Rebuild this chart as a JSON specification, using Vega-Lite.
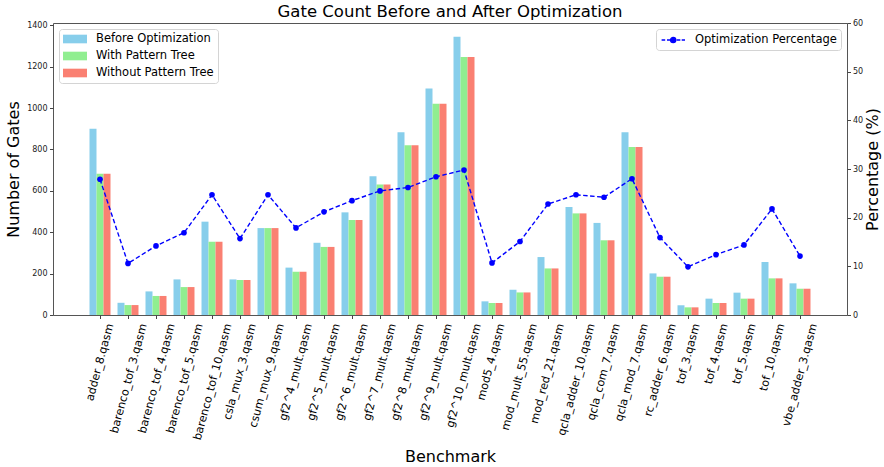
{
  "$schema": "https://vega.github.io/schema/vega-lite/v6.json",
  "autosize": {"type": "none"},
  "width": 794,
  "height": 292,
  "padding": {"left": 53, "top": 23, "right": 37, "bottom": 152},
  "background": "white",
  "config": {
    "font": "DejaVu Sans",
    "view": {"stroke": "#555", "strokeWidth": 1},
    "axis": {"grid": false, "domain": false, "tickColor": "#444", "tickSize": 3.5, "labelColor": "#222", "titleColor": "black", "titleFontWeight": "normal", "titleFont": "DejaVu Sans", "labelFont": "DejaVu Sans"}
  },
  "title": {"text": "Gate Count Before and After Optimization", "fontSize": 16.5, "fontWeight": "normal", "font": "DejaVu Sans", "color": "black", "anchor": "middle", "offset": 5, "dy": 6},
  "datasets": {
    "bars": [
      {"benchmark": "adder_8.qasm", "series": "Before Optimization", "gates": 900},
      {"benchmark": "adder_8.qasm", "series": "With Pattern Tree", "gates": 683},
      {"benchmark": "adder_8.qasm", "series": "Without Pattern Tree", "gates": 683},
      {"benchmark": "barenco_tof_3.qasm", "series": "Before Optimization", "gates": 59},
      {"benchmark": "barenco_tof_3.qasm", "series": "With Pattern Tree", "gates": 48},
      {"benchmark": "barenco_tof_3.qasm", "series": "Without Pattern Tree", "gates": 48},
      {"benchmark": "barenco_tof_4.qasm", "series": "Before Optimization", "gates": 114},
      {"benchmark": "barenco_tof_4.qasm", "series": "With Pattern Tree", "gates": 92},
      {"benchmark": "barenco_tof_4.qasm", "series": "Without Pattern Tree", "gates": 92},
      {"benchmark": "barenco_tof_5.qasm", "series": "Before Optimization", "gates": 172},
      {"benchmark": "barenco_tof_5.qasm", "series": "With Pattern Tree", "gates": 135},
      {"benchmark": "barenco_tof_5.qasm", "series": "Without Pattern Tree", "gates": 135},
      {"benchmark": "barenco_tof_10.qasm", "series": "Before Optimization", "gates": 451},
      {"benchmark": "barenco_tof_10.qasm", "series": "With Pattern Tree", "gates": 354},
      {"benchmark": "barenco_tof_10.qasm", "series": "Without Pattern Tree", "gates": 354},
      {"benchmark": "csla_mux_3.qasm", "series": "Before Optimization", "gates": 172},
      {"benchmark": "csla_mux_3.qasm", "series": "With Pattern Tree", "gates": 169},
      {"benchmark": "csla_mux_3.qasm", "series": "Without Pattern Tree", "gates": 169},
      {"benchmark": "csum_mux_9.qasm", "series": "Before Optimization", "gates": 420},
      {"benchmark": "csum_mux_9.qasm", "series": "With Pattern Tree", "gates": 420},
      {"benchmark": "csum_mux_9.qasm", "series": "Without Pattern Tree", "gates": 420},
      {"benchmark": "gf2^4_mult.qasm", "series": "Before Optimization", "gates": 229},
      {"benchmark": "gf2^4_mult.qasm", "series": "With Pattern Tree", "gates": 209},
      {"benchmark": "gf2^4_mult.qasm", "series": "Without Pattern Tree", "gates": 209},
      {"benchmark": "gf2^5_mult.qasm", "series": "Before Optimization", "gates": 349},
      {"benchmark": "gf2^5_mult.qasm", "series": "With Pattern Tree", "gates": 329},
      {"benchmark": "gf2^5_mult.qasm", "series": "Without Pattern Tree", "gates": 329},
      {"benchmark": "gf2^6_mult.qasm", "series": "Before Optimization", "gates": 496},
      {"benchmark": "gf2^6_mult.qasm", "series": "With Pattern Tree", "gates": 459},
      {"benchmark": "gf2^6_mult.qasm", "series": "Without Pattern Tree", "gates": 459},
      {"benchmark": "gf2^7_mult.qasm", "series": "Before Optimization", "gates": 670},
      {"benchmark": "gf2^7_mult.qasm", "series": "With Pattern Tree", "gates": 630},
      {"benchmark": "gf2^7_mult.qasm", "series": "Without Pattern Tree", "gates": 630},
      {"benchmark": "gf2^8_mult.qasm", "series": "Before Optimization", "gates": 883},
      {"benchmark": "gf2^8_mult.qasm", "series": "With Pattern Tree", "gates": 820},
      {"benchmark": "gf2^8_mult.qasm", "series": "Without Pattern Tree", "gates": 820},
      {"benchmark": "gf2^9_mult.qasm", "series": "Before Optimization", "gates": 1094},
      {"benchmark": "gf2^9_mult.qasm", "series": "With Pattern Tree", "gates": 1021},
      {"benchmark": "gf2^9_mult.qasm", "series": "Without Pattern Tree", "gates": 1021},
      {"benchmark": "gf2^10_mult.qasm", "series": "Before Optimization", "gates": 1345},
      {"benchmark": "gf2^10_mult.qasm", "series": "With Pattern Tree", "gates": 1247},
      {"benchmark": "gf2^10_mult.qasm", "series": "Without Pattern Tree", "gates": 1247},
      {"benchmark": "mod5_4.qasm", "series": "Before Optimization", "gates": 66},
      {"benchmark": "mod5_4.qasm", "series": "With Pattern Tree", "gates": 58},
      {"benchmark": "mod5_4.qasm", "series": "Without Pattern Tree", "gates": 58},
      {"benchmark": "mod_mult_55.qasm", "series": "Before Optimization", "gates": 122},
      {"benchmark": "mod_mult_55.qasm", "series": "With Pattern Tree", "gates": 109},
      {"benchmark": "mod_mult_55.qasm", "series": "Without Pattern Tree", "gates": 109},
      {"benchmark": "mod_red_21.qasm", "series": "Before Optimization", "gates": 280},
      {"benchmark": "mod_red_21.qasm", "series": "With Pattern Tree", "gates": 225},
      {"benchmark": "mod_red_21.qasm", "series": "Without Pattern Tree", "gates": 225},
      {"benchmark": "qcla_adder_10.qasm", "series": "Before Optimization", "gates": 522},
      {"benchmark": "qcla_adder_10.qasm", "series": "With Pattern Tree", "gates": 491},
      {"benchmark": "qcla_adder_10.qasm", "series": "Without Pattern Tree", "gates": 491},
      {"benchmark": "qcla_com_7.qasm", "series": "Before Optimization", "gates": 445},
      {"benchmark": "qcla_com_7.qasm", "series": "With Pattern Tree", "gates": 361},
      {"benchmark": "qcla_com_7.qasm", "series": "Without Pattern Tree", "gates": 361},
      {"benchmark": "qcla_mod_7.qasm", "series": "Before Optimization", "gates": 883},
      {"benchmark": "qcla_mod_7.qasm", "series": "With Pattern Tree", "gates": 812},
      {"benchmark": "qcla_mod_7.qasm", "series": "Without Pattern Tree", "gates": 812},
      {"benchmark": "rc_adder_6.qasm", "series": "Before Optimization", "gates": 201},
      {"benchmark": "rc_adder_6.qasm", "series": "With Pattern Tree", "gates": 185},
      {"benchmark": "rc_adder_6.qasm", "series": "Without Pattern Tree", "gates": 185},
      {"benchmark": "tof_3.qasm", "series": "Before Optimization", "gates": 47},
      {"benchmark": "tof_3.qasm", "series": "With Pattern Tree", "gates": 37},
      {"benchmark": "tof_3.qasm", "series": "Without Pattern Tree", "gates": 37},
      {"benchmark": "tof_4.qasm", "series": "Before Optimization", "gates": 79},
      {"benchmark": "tof_4.qasm", "series": "With Pattern Tree", "gates": 58},
      {"benchmark": "tof_4.qasm", "series": "Without Pattern Tree", "gates": 58},
      {"benchmark": "tof_5.qasm", "series": "Before Optimization", "gates": 108},
      {"benchmark": "tof_5.qasm", "series": "With Pattern Tree", "gates": 79},
      {"benchmark": "tof_5.qasm", "series": "Without Pattern Tree", "gates": 79},
      {"benchmark": "tof_10.qasm", "series": "Before Optimization", "gates": 256},
      {"benchmark": "tof_10.qasm", "series": "With Pattern Tree", "gates": 177},
      {"benchmark": "tof_10.qasm", "series": "Without Pattern Tree", "gates": 177},
      {"benchmark": "vbe_adder_3.qasm", "series": "Before Optimization", "gates": 153},
      {"benchmark": "vbe_adder_3.qasm", "series": "With Pattern Tree", "gates": 127},
      {"benchmark": "vbe_adder_3.qasm", "series": "Without Pattern Tree", "gates": 127}
    ],
    "pct": [
      {"benchmark": "adder_8.qasm", "label": "Optimization Percentage", "pct": 27.9},
      {"benchmark": "barenco_tof_3.qasm", "label": "Optimization Percentage", "pct": 10.6},
      {"benchmark": "barenco_tof_4.qasm", "label": "Optimization Percentage", "pct": 14.2},
      {"benchmark": "barenco_tof_5.qasm", "label": "Optimization Percentage", "pct": 16.9},
      {"benchmark": "barenco_tof_10.qasm", "label": "Optimization Percentage", "pct": 24.7},
      {"benchmark": "csla_mux_3.qasm", "label": "Optimization Percentage", "pct": 15.7},
      {"benchmark": "csum_mux_9.qasm", "label": "Optimization Percentage", "pct": 24.7},
      {"benchmark": "gf2^4_mult.qasm", "label": "Optimization Percentage", "pct": 17.9},
      {"benchmark": "gf2^5_mult.qasm", "label": "Optimization Percentage", "pct": 21.2},
      {"benchmark": "gf2^6_mult.qasm", "label": "Optimization Percentage", "pct": 23.5},
      {"benchmark": "gf2^7_mult.qasm", "label": "Optimization Percentage", "pct": 25.5},
      {"benchmark": "gf2^8_mult.qasm", "label": "Optimization Percentage", "pct": 26.2},
      {"benchmark": "gf2^9_mult.qasm", "label": "Optimization Percentage", "pct": 28.4},
      {"benchmark": "gf2^10_mult.qasm", "label": "Optimization Percentage", "pct": 29.8},
      {"benchmark": "mod5_4.qasm", "label": "Optimization Percentage", "pct": 10.7},
      {"benchmark": "mod_mult_55.qasm", "label": "Optimization Percentage", "pct": 15.1},
      {"benchmark": "mod_red_21.qasm", "label": "Optimization Percentage", "pct": 22.8},
      {"benchmark": "qcla_adder_10.qasm", "label": "Optimization Percentage", "pct": 24.7},
      {"benchmark": "qcla_com_7.qasm", "label": "Optimization Percentage", "pct": 24.2},
      {"benchmark": "qcla_mod_7.qasm", "label": "Optimization Percentage", "pct": 28.0},
      {"benchmark": "rc_adder_6.qasm", "label": "Optimization Percentage", "pct": 15.9},
      {"benchmark": "tof_3.qasm", "label": "Optimization Percentage", "pct": 9.9},
      {"benchmark": "tof_4.qasm", "label": "Optimization Percentage", "pct": 12.4},
      {"benchmark": "tof_5.qasm", "label": "Optimization Percentage", "pct": 14.4},
      {"benchmark": "tof_10.qasm", "label": "Optimization Percentage", "pct": 21.8},
      {"benchmark": "vbe_adder_3.qasm", "label": "Optimization Percentage", "pct": 12.1}
    ]
  },
  "layer": [
    {
      "data": {"name": "bars"},
      "mark": {"type": "bar"},
      "encoding": {
        "x": {
          "field": "benchmark", "type": "nominal", "sort": null,
          "scale": {"paddingInner": 0.25, "paddingOuter": 1, "range": [8.5, 785.5]},
          "axis": {
            "title": "Benchmark", "titleFontSize": 16, "titlePadding": 8,
            "labelAngle": -75, "labelAlign": "right", "labelBaseline": "middle",
            "labelFontSize": 11.2, "labelColor": "black", "labelPadding": 5, "labelOverlap": false, "labelLimit": 300,
            "labelOffset": {"expr": "length(datum.label)*0.88"}
          }
        },
        "xOffset": {"field": "series", "type": "nominal", "sort": ["Before Optimization", "With Pattern Tree", "Without Pattern Tree"], "scale": {"paddingInner": 0, "paddingOuter": 0}},
        "y": {
          "field": "gates", "type": "quantitative",
          "scale": {"domain": [0, 1411], "nice": false, "zero": true},
          "axis": {"title": "Number of Gates", "titleFontSize": 16, "titlePadding": 5, "values": [0, 200, 400, 600, 800, 1000, 1200, 1400], "format": "d", "labelFontSize": 8, "labelPadding": 2.5}
        },
        "color": {
          "field": "series", "type": "nominal",
          "sort": ["Before Optimization", "With Pattern Tree", "Without Pattern Tree"],
          "scale": {"domain": ["Before Optimization", "With Pattern Tree", "Without Pattern Tree"], "range": ["#87CEEB", "#90EE90", "#FA8072"]},
          "legend": {
            "title": null, "orient": "top-left", "offset": 6, "padding": 4,
            "fillColor": "white", "strokeColor": "#d4d4d4", "cornerRadius": 3,
            "labelFontSize": 11.5, "labelColor": "black", "labelFont": "DejaVu Sans",
            "symbolType": "M-1,-0.72L3,-0.72L3,0.72L-1,0.72Z", "symbolSize": 144, "symbolStrokeWidth": 0,
            "labelOffset": 21, "rowPadding": 5
          }
        }
      }
    },
    {
      "data": {"name": "pct"},
      "mark": {"type": "line", "color": "#0000ff", "strokeWidth": 1.4, "strokeDash": [4.5, 2.5], "point": {"filled": true, "size": 32, "color": "#0000ff"}},
      "encoding": {
        "x": {"field": "benchmark", "type": "nominal", "sort": null},
        "y": {
          "field": "pct", "type": "quantitative",
          "scale": {"domain": [0, 60], "nice": false},
          "axis": {"orient": "right", "title": "Percentage (%)", "titleFontSize": 16, "titleAngle": -90, "titleBaseline": "top", "titlePadding": 2, "values": [0, 10, 20, 30, 40, 50, 60], "labelFontSize": 8, "labelPadding": 2}
        },
        "color": {
          "field": "label", "type": "nominal",
          "scale": {"domain": ["Optimization Percentage"], "range": ["#0000ff"]},
          "legend": {
            "title": null, "orient": "top-right", "offset": 6, "padding": 4,
            "fillColor": "white", "strokeColor": "#d4d4d4", "cornerRadius": 3,
            "labelFontSize": 11.5, "labelColor": "black", "labelFont": "DejaVu Sans",
            "symbolType": "M-0.9,0L-0.3,0M0,0L0.55,0M1.62,0L2.22,0M2.45,0L3,0M0.6,0A0.43,0.43 0 1 0 1.46,0A0.43,0.43 0 1 0 0.6,0Z",
            "symbolSize": 144, "symbolStrokeWidth": 1.4, "symbolFillColor": "#0000ff", "symbolStrokeColor": "#0000ff",
            "labelOffset": 21
          }
        }
      }
    }
  ],
  "resolve": {"scale": {"y": "independent", "color": "independent"}, "legend": {"color": "independent"}}
}
